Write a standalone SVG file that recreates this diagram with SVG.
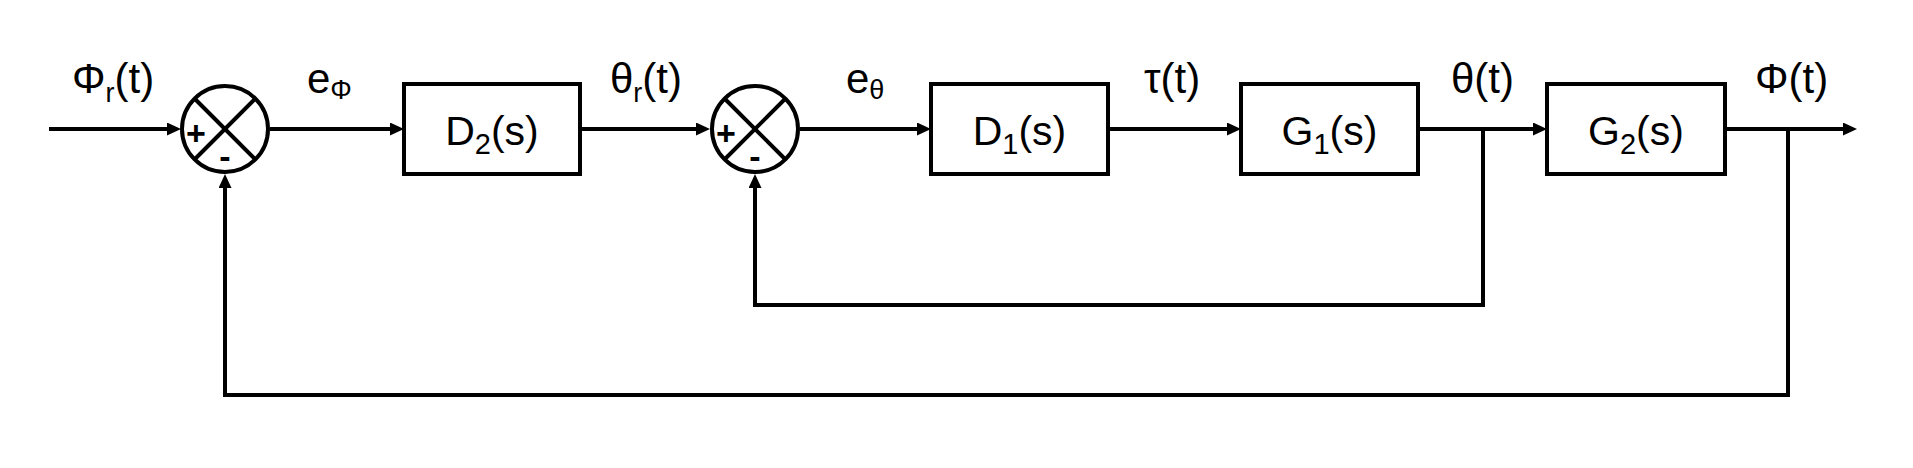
<svg xmlns="http://www.w3.org/2000/svg" width="1913" height="468" viewBox="0 0 1913 468">
<style>
.blk{fill:#fff;stroke:#000;stroke-width:4}
.sum{fill:#fff;stroke:#000;stroke-width:4}
.x{stroke:#000;stroke-width:4}
.w{fill:none;stroke:#000;stroke-width:4;stroke-linejoin:miter;marker-end:url(#ah)}
text{font-family:"Liberation Sans",Arial,sans-serif;fill:#000}
.lbl{font-size:42px}
.bl{font-size:41px;text-anchor:middle}
.sg{font-size:34px;font-weight:bold;text-anchor:middle}
.sub{font-size:27px}
.bsub{font-size:29px}
</style>
<defs>
<marker id="ah" markerUnits="userSpaceOnUse" viewBox="0 0 14 13" markerWidth="14" markerHeight="13" refX="3" refY="6.5" orient="auto">
<path d="M0,0 L14,6.5 L0,13 z" fill="#000"/>
</marker>
</defs>
<rect width="1913" height="468" fill="#fff"/>
<g id="connectors">
<path class="w" d="M49,129 H170"/>
<path class="w" d="M270,129 H393"/>
<path class="w" d="M580,129 H699"/>
<path class="w" d="M800,129 H920"/>
<path class="w" d="M1108,129 H1230"/>
<path class="w" d="M1418,129 H1536"/>
<path class="w" d="M1725,129 H1846"/>
<path class="w" d="M1483,129 V305 H755 V185"/>
<path class="w" d="M1788,129 V395 H225 V185"/>
</g>
<g id="sum1">
<circle class="sum" cx="225" cy="129" r="43"/>
<line class="x" x1="194.5" y1="98.5" x2="255.5" y2="159.5"/>
<line class="x" x1="255.5" y1="98.5" x2="194.5" y2="159.5"/>
<text class="sg" x="196" y="145">+</text>
<text class="sg" x="225" y="168">-</text>
</g>
<g id="sum2">
<circle class="sum" cx="755" cy="129" r="43"/>
<line class="x" x1="724.5" y1="98.5" x2="785.5" y2="159.5"/>
<line class="x" x1="785.5" y1="98.5" x2="724.5" y2="159.5"/>
<text class="sg" x="726" y="145">+</text>
<text class="sg" x="755" y="168">-</text>
</g>
<g id="D2">
<rect class="blk" x="404" y="84" width="176" height="90"/>
<text class="bl" x="492" y="145">D<tspan class="bsub" dy="9">2</tspan><tspan dy="-9">(s)</tspan></text>
</g>
<g id="D1">
<rect class="blk" x="931" y="84" width="177" height="90"/>
<text class="bl" x="1019.5" y="145">D<tspan class="bsub" dy="9">1</tspan><tspan dy="-9">(s)</tspan></text>
</g>
<g id="G1">
<rect class="blk" x="1241" y="84" width="177" height="90"/>
<text class="bl" x="1329.5" y="145">G<tspan class="bsub" dy="9">1</tspan><tspan dy="-9">(s)</tspan></text>
</g>
<g id="G2">
<rect class="blk" x="1547" y="84" width="178" height="90"/>
<text class="bl" x="1636" y="145">G<tspan class="bsub" dy="9">2</tspan><tspan dy="-9">(s)</tspan></text>
</g>
<g id="labels">
<text class="lbl" x="72" y="93">Φ<tspan class="sub" dy="9">r</tspan><tspan dy="-9">(t)</tspan></text>
<text class="lbl" x="307" y="93">e<tspan class="sub" dy="6">Φ</tspan></text>
<text class="lbl" x="610" y="93">θ<tspan class="sub" dy="9">r</tspan><tspan dy="-9">(t)</tspan></text>
<text class="lbl" x="846" y="93">e<tspan class="sub" dy="6">θ</tspan></text>
<text class="lbl" x="1144" y="93">τ(t)</text>
<text class="lbl" x="1451" y="93">θ(t)</text>
<text class="lbl" x="1755" y="93">Φ(t)</text>
</g>
</svg>
